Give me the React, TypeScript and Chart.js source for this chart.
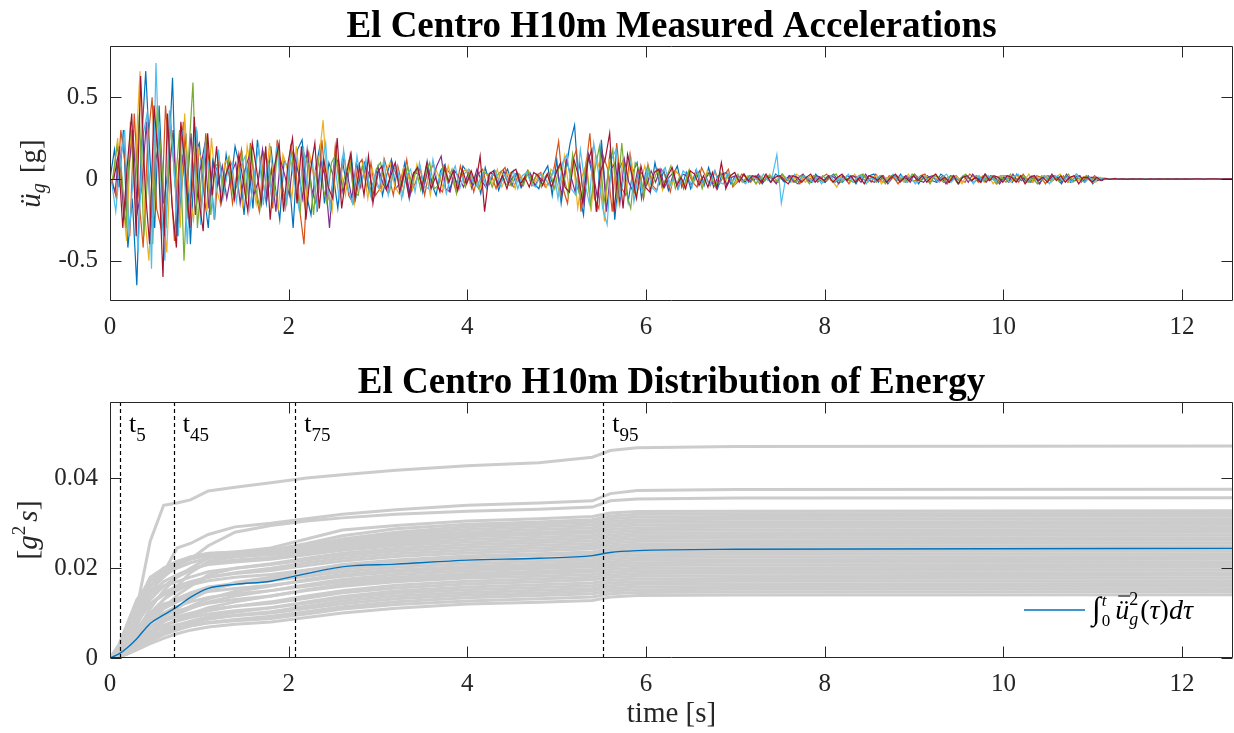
import React, { useEffect, useRef } from "react";
import { Chart, registerables } from "chart.js";
Chart.register(...registerables);

const FONT = "'Liberation Serif', 'Times New Roman', serif";
const AXIS_COLOR = "#262626";

// ---------- Top panel: measured accelerations [g], sampled every ACC_DT seconds ----------
const ACC_DT = 0.05;
// each record starts at its own sub-sample offset (fraction of ACC_DT)
const ACC_OFFSETS = [0, 0.43, 0.71, 0.14, 0.57, 0.29, 0.86];
const ACC_S1 = [
  0,.18,-.05,.3,-.42,-.12,-.65,.2,.66,.1,-.3,.45,-.15,.05,.62,-.35,-.08,.28,-.4,.15,
  .22,-.08,-.3,.12,.05,-.12,.15,-.04,.2,.08,-.22,.1,-.18,.24,.02,-.15,.2,-.05,-.25,.12,
  .05,-.3,.18,.24,-.1,-.22,.06,.2,-.15,.1,.02,-.18,.12,-.05,.15,-.12,.04,.1,-.08,-.02,
  .08,-.1,.03,.12,-.06,-.02,.1,-.12,.04,.06,-.08,.11,-.03,-.1,.05,.09,-.07,.02,-.05,.08,
  .04,-.06,.02,-.09,.07,-.03,.05,-.07,.01,.06,-.04,.03,-.05,.02,.04,-.03,-.06,.03,.08,-.1,
  .12,-.15,.05,.22,.33,-.08,-.22,.15,.02,-.2,.24,-.1,.18,-.25,.06,.12,-.14,.04,.1,-.12,
  .06,-.08,.1,-.03,.05,-.07,.02,.08,-.05,.04,-.06,.01,.05,-.04,.07,-.02,-.06,.03,.04,-.03,
  .02,-.01,.03,-.02,.01,.02,-.03,.01,-.02,.03,.01,-.02,.02,-.01,-.03,.02,.01,-.02,.03,-.01,
  -.02,.01,.03,-.01,-.02,.02,.01,-.03,.02,-.01,.02,.03,-.02,.01,-.02,.02,-.01,.03,-.02,.01,
  .02,-.03,.01,.02,-.01,-.02,.03,.01,-.02,.01,-.03,.02,.01,-.01,.02,-.02,.03,-.01,.01,-.02,
  .01,.02,-.02,.03,-.01,.01,-.02,.02,-.03,.01,.02,-.01,.01,-.03,.02,-.02,.01,.02,-.01,.02,
  -.03,.01,-.01,.004,-.002,.003,-.001,.002,-.002,.001,-.001,.002,-.001,.001,-.002,.001,-.001,.001,-.001,.001,
  -.001,.001,0,.001,-.001,0,.001,-.001,0,.001,-.001,0,
];
const ACC_S2 = [
  0,-.12,.3,.08,-.35,.4,-.1,-.42,.22,.5,-.18,-.3,.45,.05,-.38,.1,.35,-.22,-.05,.3,
  -.2,.28,.04,-.25,.12,-.06,.1,-.15,.02,.18,-.12,.22,-.06,-.2,.16,.08,-.18,.24,-.02,-.15,
  .2,.1,-.18,-.4,.16,.05,-.2,.24,-.08,-.15,.2,-.02,.14,-.1,-.15,.08,.12,-.06,.1,-.1,
  -.06,.12,.02,-.1,.08,-.04,.12,-.08,-.02,.07,-.1,.04,.09,-.05,-.08,.06,.02,-.07,.08,-.03,
  .05,-.08,.03,.06,-.05,.02,-.06,.04,.07,-.02,-.05,.03,-.01,.05,-.04,.02,.04,-.05,-.02,.07,
  .23,-.06,-.15,.1,.18,-.2,.05,.28,-.12,-.18,.14,.06,-.2,.22,-.05,-.1,.15,-.08,.06,-.12,
  .09,-.04,-.07,.06,.02,-.08,.05,.03,-.06,.04,-.02,-.05,.07,.01,-.04,.05,-.03,.02,.06,-.05,
  -.02,.03,.01,-.02,.02,-.03,.01,.02,-.01,-.02,.03,-.01,.02,.01,-.03,.02,-.01,.02,-.02,.01,
  .03,-.01,-.02,.02,.01,-.03,.02,-.01,.02,.01,-.02,.03,-.01,-.02,.02,.01,-.03,.01,.02,-.01,
  -.01,.02,.03,-.02,.01,-.01,.02,-.03,.01,.02,-.01,-.02,.03,.01,-.02,.02,-.01,.01,-.03,.02,
  .02,-.01,.01,-.02,.03,-.01,-.02,.02,.01,-.03,.02,.01,-.01,.02,-.02,.01,.03,-.02,.01,-.01,
  .02,-.01,.005,-.002,.002,-.001,.002,-.001,.001,-.002,.001,-.001,.002,-.001,.001,-.001,.001,-.001,.001,-.001,
  .001,-.001,0,.001,-.001,.001,0,-.001,.001,0,-.001,0,
];
const ACC_S3 = [
  0,.25,-.1,-.38,.3,.12,.66,-.2,-.5,.1,.38,-.15,-.45,.22,.05,-.3,.4,-.08,-.25,.18,
  .1,-.2,.25,-.05,-.15,.1,.14,-.06,.08,-.18,.2,.04,-.15,.12,-.1,.22,-.04,-.18,.15,.06,
  -.12,.2,-.05,-.18,.15,.02,.1,.36,-.08,-.2,.12,.05,-.1,.14,-.15,.03,.1,-.12,.06,-.04,
  -.08,.05,.1,-.04,-.09,.07,.02,-.06,.09,-.03,.05,-.1,.07,.01,-.06,.08,-.02,-.05,.04,.06,
  -.04,.02,-.07,.05,.01,-.03,.06,-.05,.02,.04,-.06,.03,-.02,.05,-.04,.01,.03,-.05,.06,.02,
  -.1,.14,-.05,.12,-.18,.02,.1,-.2,.15,.05,-.26,.12,.08,-.15,.1,-.04,.12,-.1,-.03,.08,
  -.05,.04,.06,-.07,.02,-.04,.05,.01,-.05,.06,-.02,.03,-.04,.05,-.01,-.03,.04,-.02,.03,-.04,
  .01,-.02,.02,.01,-.03,.02,-.01,.03,-.02,.01,.02,-.01,-.02,.03,.01,-.02,.02,-.01,.01,-.02,
  .02,-.01,-.05,.02,.01,-.02,.03,-.01,.02,-.02,.01,.02,-.03,.01,-.01,.02,.01,-.02,.03,-.01,
  -.02,.01,.02,-.01,.03,-.02,.01,-.01,.02,.01,-.03,.02,-.01,.02,.01,-.02,.02,-.03,.01,.02,
  .01,-.02,.02,.01,-.01,.03,-.02,.01,-.01,.02,-.02,.01,.03,-.01,-.02,.02,-.01,.01,.02,-.02,
  -.02,.01,-.004,.002,-.002,.001,-.001,.002,-.001,.001,-.002,.001,-.001,.001,-.001,.002,-.001,.001,-.001,.001,
  -.001,.001,0,-.001,.001,0,.001,-.001,0,.001,0,0,
];
const ACC_S4 = [
  0,-.08,.2,-.25,.05,.3,-.2,-.05,.35,-.3,.1,.25,-.35,.02,.3,-.28,.15,-.1,.28,-.22,
  .05,.2,-.18,.1,-.04,.08,-.12,.03,.1,-.15,.05,.14,-.1,-.02,.18,-.12,.06,-.2,.12,.02,
  -.1,.16,.04,-.12,.18,-.06,-.15,.1,.02,-.3,.08,.12,-.08,.03,-.12,.1,-.05,.08,.02,-.1,
  .06,-.03,-.08,.1,.02,-.05,.07,-.1,.04,.03,-.07,.06,-.02,.08,.14,-.06,-.08,.05,.01,-.05,
  .03,-.04,.06,-.01,-.05,.04,.02,-.04,.05,-.03,.01,.04,-.05,.02,.03,-.04,.01,-.02,.04,-.03,
  .06,-.1,.12,.02,-.08,.1,-.14,.15,.04,-.12,.18,-.2,.06,.1,-.15,.12,-.02,-.08,.06,.03,
  -.04,.05,-.02,.06,-.05,.01,.04,-.06,.03,.02,-.04,.05,-.03,-.01,.04,-.05,.02,.03,-.04,.01,
  .02,.01,-.02,.02,-.01,.03,-.02,.01,.01,-.03,.02,-.01,.02,-.02,.01,.03,-.01,-.02,.02,.01,
  -.02,.02,.01,-.03,.02,-.01,.02,.01,-.02,.03,-.01,-.02,.01,.02,-.03,.01,.02,-.01,.02,-.02,
  .03,-.01,-.02,.01,.02,-.02,.01,-.03,.02,.01,-.01,.02,-.02,.03,-.01,.01,-.02,.02,.01,-.03,
  .01,-.02,.03,-.01,.02,-.02,.01,.01,-.03,.02,-.01,.02,.01,-.02,.03,-.01,-.01,.02,-.02,.01,
  .01,-.01,.003,-.002,.001,-.002,.001,-.001,.002,-.001,.001,-.001,.001,-.002,.001,-.001,.001,-.001,.001,0,
  .001,0,-.001,.001,0,-.001,.001,0,-.001,.001,0,0,
];
const ACC_S5 = [
  0,.2,.05,-.3,.35,-.12,.4,-.35,.08,-.4,.45,.1,-.3,.38,-.05,.3,-.5,.12,.59,-.3,
  .05,.25,-.22,.08,.1,-.08,.12,-.1,-.03,.15,-.12,.2,-.05,-.18,.15,.1,-.14,.22,-.08,-.15,
  .18,-.05,-.2,.15,.08,-.22,.12,-.04,-.15,.1,.15,-.1,.02,.12,-.08,-.1,.08,.03,-.12,.06,
  .1,-.04,-.08,.06,.02,-.1,.08,-.03,.06,-.07,.02,.1,-.06,-.04,.08,-.02,.06,-.09,.03,-.05,
  .05,-.02,-.06,.04,.03,-.05,.02,.05,-.03,-.04,.03,.01,-.04,.05,-.02,.03,-.05,.02,.04,-.06,
  .08,.02,-.1,.15,-.05,-.12,.1,-.16,.06,.2,-.15,.04,.18,-.12,.22,-.08,-.18,.1,.05,-.1,
  .07,-.03,.06,-.05,.01,.08,-.06,.02,-.04,.05,-.02,.04,-.06,.03,.02,-.05,.04,-.01,.03,-.04,
  .03,-.02,.01,.02,-.03,.01,-.01,.02,.01,-.02,.03,-.01,.01,-.02,.02,.01,-.03,.02,-.01,.02,
  -.01,.02,.03,-.02,.01,-.01,-.02,.02,.03,-.01,.01,-.02,.02,-.03,.01,.02,-.01,.01,-.02,.03,
  .02,-.01,.01,-.03,.02,.01,-.02,.01,.02,-.02,.01,.03,-.01,-.02,.02,-.01,.01,.02,-.03,.01,
  -.02,.03,-.01,.01,.02,-.02,.01,-.03,.02,.01,-.01,.02,-.02,.01,.03,-.02,.01,-.01,.02,-.01,
  .01,-.01,.004,-.002,.002,-.001,.001,-.002,.001,-.001,.002,-.001,.001,-.001,.001,-.001,.002,-.001,.001,-.001,
  .001,-.001,0,.001,0,-.001,.001,0,-.001,0,.001,0,
];
const ACC_S6 = [
  0,-.2,.1,.3,-.35,.05,-.45,.25,.4,-.55,.71,-.1,-.5,.42,.08,-.35,.3,-.4,.12,.32,
  -.28,.2,.05,-.25,.18,-.12,.04,.1,-.14,.08,.14,-.18,.02,.2,-.16,.1,-.14,.2,-.05,-.18,
  .15,-.02,-.18,.2,-.1,.12,-.18,.05,.22,-.2,.1,-.12,.18,-.06,-.15,.14,-.04,.12,-.1,.02,
  -.06,.12,-.1,.04,.08,-.12,.02,.06,-.08,.1,-.04,-.06,.12,-.03,.05,-.09,.02,.08,-.06,.03,
  .06,-.02,-.05,.04,-.06,.01,.05,-.04,.03,-.02,.05,-.06,.02,.04,-.03,-.05,.03,.01,-.04,.06,
  -.12,.1,.15,-.06,-.1,.18,-.02,-.15,.22,.05,-.18,-.28,.12,.18,-.1,.04,.15,-.14,.02,-.08,
  .06,-.05,-.08,.03,.07,-.04,.01,-.06,.05,.02,-.05,.06,-.03,.01,-.04,.05,-.02,-.03,.04,-.02,
  .02,-.01,-.03,.02,.01,-.02,.03,-.01,.02,.15,-.15,.01,-.02,.03,-.01,.02,.01,-.02,.01,-.03,
  .01,.02,-.02,.01,-.01,.03,-.02,.01,.02,-.03,.01,-.01,.02,.01,-.02,.03,-.01,.02,-.02,.01,
  -.03,.01,.02,-.01,.02,-.02,.01,.03,-.02,.01,-.01,.02,.01,-.03,.02,-.01,.02,.01,-.02,.02,
  .02,-.02,.01,.03,-.01,-.02,.02,.01,-.01,.02,-.03,.01,.02,-.01,.01,-.02,.03,-.01,-.02,.01,
  -.02,.01,-.004,.002,-.001,.002,-.001,.001,-.002,.001,-.001,.001,-.001,.002,-.001,.001,-.001,.001,-.001,.001,
  -.001,.001,0,-.001,.001,0,-.001,.001,0,-.001,0,0,
];
const ACC_S7 = [
  0,.15,-.3,.08,.4,-.35,.63,-.05,-.4,.45,.1,-.6,.4,-.15,-.42,.35,.05,-.3,.38,-.12,
  -.32,.28,-.1,.2,-.15,.02,.1,-.12,.15,-.02,-.2,.22,.05,-.15,.2,-.25,.08,.22,-.2,.1,
  .25,-.15,.2,-.25,.05,.22,-.18,.12,-.05,-.12,.25,-.18,.02,.15,-.12,.08,-.1,.14,-.15,.04,
  .08,-.06,.02,.1,-.08,.05,-.1,.03,.07,-.05,.09,-.06,.01,-.08,.07,-.02,.05,-.07,.06,-.03,
  .05,-.03,.14,-.2,.03,.05,-.04,.02,-.06,.04,.06,-.03,.01,-.05,.04,.02,-.04,.03,-.05,.04,
  .1,-.05,-.08,.12,.02,-.15,.1,.18,-.2,.05,.12,.28,-.2,.1,-.18,.15,.02,-.12,.08,-.05,
  -.08,.04,.06,-.05,.02,.07,-.04,.01,-.06,.05,.03,-.04,.02,-.05,.04,-.06,.1,-.06,.02,.04,
  -.02,.03,-.01,.02,.01,-.02,.03,-.02,.01,.02,-.01,-.03,.02,.01,-.02,.01,.03,-.02,.01,-.01,
  .02,-.02,.01,.03,-.01,.02,-.02,.01,-.03,.02,.01,-.01,.02,-.02,.01,.03,-.02,.01,-.01,.02,
  -.01,.02,-.02,.01,.03,-.01,.01,-.02,.02,-.03,.01,.02,-.01,.01,-.02,.03,-.01,.02,.01,-.02,
  .02,.01,-.02,.02,-.03,.01,.02,-.01,.01,-.02,.03,-.01,.02,-.02,.01,.02,-.03,.01,.01,-.02,
  .01,-.01,.003,-.002,.002,-.001,.001,-.002,.001,-.001,.001,-.002,.001,-.001,.001,-.001,.001,-.001,.001,-.001,
  .001,-.001,0,.001,-.001,0,.001,0,-.001,.001,0,0,
];
const ACC_SERIES = [ACC_S1, ACC_S2, ACC_S3, ACC_S4, ACC_S5, ACC_S6, ACC_S7];
const ACC_COLORS = ["#0072BD", "#D95319", "#EDB120", "#7E2F8E", "#77AC30", "#4DBEEE", "#A2142F"];

// ---------- Bottom panel: cumulative energy [g^2 s] ----------
const ENERGY_TIME = [0, 0.1, 0.2, 0.3, 0.45, 0.6, 0.75, 0.9, 1.1, 1.4, 1.8, 2.2, 2.6, 3.2, 4.0, 4.8, 5.4, 5.6, 5.9, 7.0, 12.57];
const ENERGY_GRAY = [
  [0,.0015,.005,.011,.026,.034,.0345,.0352,.0372,.038,.039,.0401,.0408,.0418,.0428,.0435,.0447,.0462,.0468,.0471,.0472],
  [0,.0008,.003,.007,.014,.019,.0245,.0255,.0275,.0292,.03,.031,.032,.033,.034,.0345,.035,.0366,.0373,.0375,.0376],
  [0,.001,.004,.009,.015,.018,.0205,.022,.025,.028,.0295,.0305,.0312,.032,.0327,.0331,.0336,.035,.0354,.0356,.0357],
  [0,.002,.006,.012,.018,.02,.0215,.0225,.0232,.0236,.0245,.0265,.0285,.0295,.0305,.031,.0315,.0323,.0326,.0327,.0328],
  [0,.0015,.005,.01,.016,.019,.021,.0225,.0233,.0236,.024,.0255,.0272,.0288,.0298,.0303,.0308,.0316,.032,.0321,.0322],
  [0,.003,.008,.013,.017,.0195,.021,.022,.0228,.0232,.0236,.025,.0265,.028,.0292,.0298,.0302,.031,.0314,.0315,.0316],
  [0,.001,.003,.006,.011,.015,.018,.02,.0222,.023,.0235,.025,.0262,.0275,.0286,.0292,.0296,.0304,.0308,.0309,.031],
  [0,.002,.007,.012,.017,.02,.0215,.0222,.0228,.0231,.0234,.0245,.0258,.027,.028,.0286,.029,.0298,.0302,.0303,.0304],
  [0,.0005,.002,.005,.009,.013,.016,.019,.0215,.0225,.0232,.0243,.0254,.0265,.0275,.028,.0284,.0292,.0296,.0297,.0298],
  [0,.002,.006,.011,.016,.0185,.02,.0212,.0222,.0226,.023,.024,.025,.026,.027,.0275,.0279,.0286,.029,.0291,.0292],
  [0,.001,.004,.008,.013,.016,.018,.0195,.021,.0218,.0224,.0235,.0245,.0255,.0264,.0269,.0273,.028,.0284,.0285,.0286],
  [0,.0015,.005,.009,.014,.017,.0185,.0198,.0208,.0214,.022,.023,.024,.025,.0258,.0263,.0267,.0274,.0278,.0279,.028],
  [0,.0005,.0015,.004,.008,.011,.014,.016,.0185,.02,.021,.0222,.0233,.0244,.0252,.0257,.0261,.0268,.0272,.0273,.0274],
  [0,.002,.006,.01,.014,.016,.017,.018,.0192,.02,.0208,.0218,.0228,.0238,.0246,.0251,.0255,.0262,.0266,.0267,.0268],
  [0,.001,.003,.006,.01,.013,.015,.0165,.018,.019,.02,.0212,.0222,.0232,.024,.0245,.0249,.0256,.026,.0261,.0262],
  [0,.0015,.004,.008,.012,.0145,.016,.017,.018,.0188,.0195,.0206,.0216,.0226,.0234,.0239,.0243,.025,.0254,.0255,.0256],
  [0,.0005,.002,.004,.007,.009,.011,.013,.015,.0168,.018,.0195,.0208,.0218,.0227,.0232,.0236,.0244,.0248,.0249,.025],
  [0,.001,.004,.008,.012,.014,.0155,.0163,.0172,.018,.0186,.0196,.0206,.0215,.0223,.0228,.0231,.0238,.0242,.0243,.0244],
  [0,.0005,.002,.005,.009,.011,.0125,.0138,.0152,.0165,.0175,.0188,.0198,.0208,.0216,.0221,.0225,.0232,.0236,.0237,.0238],
  [0,.001,.003,.006,.009,.0115,.0132,.0145,.0158,.0166,.0172,.0182,.0192,.0202,.021,.0215,.0219,.0226,.023,.0231,.0232],
  [0,.0005,.0015,.003,.006,.008,.01,.0115,.0132,.0148,.016,.0175,.0186,.0196,.0204,.0209,.0213,.022,.0224,.0225,.0226],
  [0,.001,.003,.006,.01,.012,.013,.014,.0148,.0155,.0162,.0172,.0182,.0192,.02,.0204,.0208,.0214,.0218,.0219,.022],
  [0,.0005,.002,.004,.007,.0085,.0098,.011,.0125,.0138,.015,.0163,.0175,.0186,.0194,.0199,.0203,.0208,.0212,.0213,.0214],
  [0,.001,.0025,.005,.008,.01,.0115,.0125,.0135,.0143,.015,.016,.017,.018,.0188,.0193,.0197,.0203,.0206,.0207,.0208],
  [0,.0003,.001,.0025,.005,.007,.0085,.0098,.0112,.0125,.0138,.0152,.0164,.0175,.0183,.0188,.0192,.0197,.02,.0201,.0202],
  [0,.001,.003,.005,.008,.0095,.0105,.0113,.0122,.013,.0138,.015,.016,.017,.0178,.0182,.0186,.0191,.0194,.0195,.0196],
  [0,.0005,.0015,.003,.0055,.0072,.0085,.0095,.0105,.0115,.0125,.0138,.015,.0162,.0171,.0176,.018,.0185,.0188,.0189,.019],
  [0,.001,.0025,.0045,.0068,.0082,.0092,.01,.0108,.0115,.0122,.0133,.0145,.0156,.0165,.017,.0174,.0179,.0182,.0183,.0184],
  [0,.0004,.0012,.0025,.0045,.006,.0072,.0082,.0092,.0102,.0112,.0125,.0137,.0149,.0158,.0163,.0167,.0173,.0176,.0177,.0178],
  [0,.0008,.002,.0038,.006,.0072,.0082,.009,.0098,.0105,.0112,.0122,.0133,.0144,.0152,.0157,.0161,.0167,.017,.0171,.0172],
  [0,.0003,.001,.002,.004,.0055,.0066,.0076,.0086,.0095,.0103,.0115,.0127,.0138,.0146,.0151,.0155,.0161,.0164,.0165,.0166],
  [0,.0006,.0018,.0034,.0055,.0066,.0074,.0081,.0088,.0094,.01,.011,.0121,.0132,.014,.0145,.0149,.0155,.0158,.0159,.016],
  [0,.0003,.001,.002,.0038,.0052,.0062,.0071,.0079,.0086,.0093,.0103,.0114,.0125,.0134,.0139,.0143,.0149,.0152,.0153,.0154],
  [0,.0005,.0014,.0028,.0046,.0058,.0066,.0072,.0078,.0083,.0088,.0098,.0109,.0119,.0127,.0132,.0136,.0143,.0146,.0147,.0148],
  [0,.0003,.0009,.0018,.0032,.0044,.0054,.0062,.0069,.0075,.008,.009,.01,.0111,.012,.0124,.0128,.0136,.0139,.014,.0141],
];
const ENERGY_MEAN = [0,.0009,.0024,.0043,.0077,.0096,.0114,.0135,.0155,.0164,.0171,.0188,.0203,.0209,.0218,.0222,.0228,.0235,.0239,.0242,.0244];

const T_MARKS = [0.112, 0.713, 2.074, 5.52];
const T_SUBS = ["5", "45", "75", "95"];

const X_TICKS = [0, 2, 4, 6, 8, 10, 12];
const ACC_Y_TICKS = [-0.5, 0, 0.5];
const ENERGY_Y_TICKS = [0, 0.02, 0.04];

const X_MAX = 12.57;

type Run = { text: string; font: string; dy?: number; dx?: number; stack?: boolean; overline?: boolean };

function drawRuns(ctx: CanvasRenderingContext2D, runs: Run[], x: number, y: number, align: "left" | "center") {
  let prevStart = 0, prevW = 0;
  const pos: { x: number; w: number }[] = [];
  let cursor = 0;
  for (const r of runs) {
    ctx.font = r.font;
    const w = ctx.measureText(r.text).width;
    cursor += r.dx || 0;
    if (r.stack) {
      pos.push({ x: prevStart, w });
      cursor = prevStart + Math.max(prevW, w);
      prevW = Math.max(prevW, w);
    } else {
      pos.push({ x: cursor, w });
      prevStart = cursor;
      prevW = w;
      cursor += w;
    }
  }
  const total = cursor;
  const x0 = align === "center" ? x - total / 2 : x;
  runs.forEach((r, i) => {
    ctx.font = r.font;
    ctx.fillText(r.text, x0 + pos[i].x, y + (r.dy || 0));
    if (r.overline) {
      const size = parseFloat(r.font.replace(/^[^0-9]*/, ""));
      ctx.save();
      ctx.lineWidth = 1;
      ctx.beginPath();
      ctx.moveTo(x0 + pos[i].x + 3, y - size * 0.82);
      ctx.lineTo(x0 + pos[i].x + pos[i].w + 1, y - size * 0.82);
      ctx.stroke();
      ctx.restore();
    }
  });
}

function framePlugin(id: string, yTicks: number[], extra: (chart: any) => void) {
  return {
    id,
    afterDatasetsDraw(chart: any) {
      const ctx: CanvasRenderingContext2D = chart.ctx;
      const { left, right, top, bottom } = chart.chartArea;
      const xs = chart.scales.x, ys = chart.scales.y;
      ctx.save();
      extra(chart);
      ctx.strokeStyle = AXIS_COLOR;
      ctx.lineWidth = 1;
      ctx.setLineDash([]);
      const L = Math.round(left) + 0.5, R = Math.round(right) - 0.5, T = Math.round(top) + 0.5, B = Math.round(bottom) - 0.5;
      ctx.beginPath();
      ctx.rect(L, T, R - L, B - T);
      ctx.stroke();
      const tl = 11;
      ctx.beginPath();
      for (const v of X_TICKS) {
        const px = Math.round(xs.getPixelForValue(v)) + 0.5;
        ctx.moveTo(px, B); ctx.lineTo(px, B - tl);
        ctx.moveTo(px, T); ctx.lineTo(px, T + tl);
      }
      for (const v of yTicks) {
        const py = Math.round(ys.getPixelForValue(v)) + 0.5;
        ctx.moveTo(L, py); ctx.lineTo(L + tl, py);
        ctx.moveTo(R, py); ctx.lineTo(R - tl, py);
      }
      ctx.stroke();
      ctx.restore();
    },
  };
}

function axisConfig(yMin: number, yMax: number, yTicks: number[], xHeight: number) {
  return {
    x: {
      type: "linear" as const,
      min: 0,
      max: X_MAX,
      afterBuildTicks: (s: any) => { s.ticks = X_TICKS.map((v) => ({ value: v })); },
      afterFit: (s: any) => { s.height = xHeight; },
      grid: { display: false, drawTicks: false },
      border: { display: false },
      ticks: {
        color: AXIS_COLOR,
        font: { family: FONT, size: 25 },
        padding: 11,
        maxRotation: 0,
        autoSkip: false,
        callback: (v: any) => String(v),
      },
    },
    y: {
      type: "linear" as const,
      min: yMin,
      max: yMax,
      afterBuildTicks: (s: any) => { s.ticks = yTicks.map((v) => ({ value: v })); },
      afterFit: (s: any) => { s.width = 110; },
      grid: { display: false, drawTicks: false },
      border: { display: false },
      ticks: {
        color: AXIS_COLOR,
        font: { family: FONT, size: 25 },
        padding: 12,
        autoSkip: false,
        callback: (v: any) => String(v),
      },
    },
  };
}

export default function App() {
  const topRef = useRef<HTMLCanvasElement>(null);
  const botRef = useRef<HTMLCanvasElement>(null);

  useEffect(() => {
    document.body.style.margin = "0";

    const n = ACC_SERIES.length;
    const accDatasets = ACC_SERIES.map((vals, k) => ({
      data: vals.map((v, i) => ({ x: (i + ACC_OFFSETS[k]) * ACC_DT, y: v })),
      borderColor: ACC_COLORS[k],
      borderWidth: 1.2,
      pointRadius: 0,
      tension: 0,
      fill: false,
      order: n - k,
    }));

    const topDecor = framePlugin("topDecor", ACC_Y_TICKS, (chart) => {
      const ctx: CanvasRenderingContext2D = chart.ctx;
      const { left, right } = chart.chartArea;
      ctx.fillStyle = "#000";
      ctx.textAlign = "center";
      ctx.textBaseline = "alphabetic";
      ctx.font = `bold 37px ${FONT}`;
      ctx.fillText("El Centro H10m Measured Accelerations", (left + right) / 2, 37);
      ctx.save();
      ctx.fillStyle = AXIS_COLOR;
      ctx.translate(40, (chart.chartArea.top + chart.chartArea.bottom) / 2);
      ctx.rotate(-Math.PI / 2);
      ctx.textAlign = "left";
      drawRuns(ctx, [
        { text: "ü", font: `italic 29px ${FONT}` },
        { text: "g", font: `italic 20px ${FONT}`, dy: 5 },
        { text: "[g]", font: `29px ${FONT}`, dx: 10 },
      ], 0, 0, "center");
      ctx.restore();
    });

    const c1 = new Chart(topRef.current as HTMLCanvasElement, {
      type: "line",
      data: { datasets: accDatasets as any },
      options: {
        animation: false,
        responsive: false,
        devicePixelRatio: 1,
        events: [],
        parsing: false,
        layout: { padding: { top: 46, right: 1, left: 0, bottom: 0 } },
        plugins: { legend: { display: false }, tooltip: { enabled: false }, title: { display: false } },
        scales: axisConfig(-0.747, 0.814, ACC_Y_TICKS, 59) as any,
      },
      plugins: [topDecor],
    });

    const grayDatasets = ENERGY_GRAY.map((vals) => ({
      data: vals.map((v, i) => ({ x: ENERGY_TIME[i], y: v })),
      borderColor: "#CCCCCC",
      borderWidth: 3,
      pointRadius: 0,
      tension: 0,
      fill: false,
      order: 2,
    }));
    const meanDataset = {
      data: ENERGY_MEAN.map((v, i) => ({ x: ENERGY_TIME[i], y: v })),
      borderColor: "#0072BD",
      borderWidth: 1.4,
      pointRadius: 0,
      cubicInterpolationMode: "monotone",
      fill: false,
      order: 1,
    };

    const botDecor = framePlugin("botDecor", ENERGY_Y_TICKS, (chart) => {
      const ctx: CanvasRenderingContext2D = chart.ctx;
      const { left, right, top, bottom } = chart.chartArea;
      const xs = chart.scales.x;
      ctx.save();
      ctx.strokeStyle = "#000";
      ctx.lineWidth = 1.2;
      ctx.setLineDash([4, 3]);
      ctx.beginPath();
      T_MARKS.forEach((t) => {
        const px = Math.round(xs.getPixelForValue(t)) + 0.5;
        ctx.moveTo(px, top);
        ctx.lineTo(px, bottom);
      });
      ctx.stroke();
      ctx.restore();
      ctx.fillStyle = "#000";
      ctx.textAlign = "left";
      ctx.textBaseline = "alphabetic";
      T_MARKS.forEach((t, i) => {
        const px = xs.getPixelForValue(t);
        drawRuns(ctx, [
          { text: "t", font: `26px ${FONT}` },
          { text: T_SUBS[i], font: `19px ${FONT}`, dy: 9 },
        ], px + 9, top + 30, "left");
      });
      ctx.font = `bold 37px ${FONT}`;
      ctx.textAlign = "center";
      ctx.fillText("El Centro H10m Distribution of Energy", (left + right) / 2, 33);
      ctx.fillStyle = AXIS_COLOR;
      ctx.font = `29px ${FONT}`;
      ctx.fillText("time [s]", (left + right) / 2, 362);
      ctx.save();
      ctx.translate(37, (top + bottom) / 2);
      ctx.rotate(-Math.PI / 2);
      ctx.textAlign = "left";
      drawRuns(ctx, [
        { text: "[", font: `30px ${FONT}` },
        { text: "g", font: `italic 29px ${FONT}` },
        { text: "2", font: `19px ${FONT}`, dy: -12 },
        { text: "s", font: `italic 29px ${FONT}`, dx: 4 },
        { text: "]", font: `30px ${FONT}` },
      ], 0, 0, "center");
      ctx.restore();
      // legend
      const ly = 250;
      ctx.save();
      ctx.strokeStyle = "#0072BD";
      ctx.lineWidth = 1.5;
      ctx.beginPath();
      ctx.moveTo(1024, ly);
      ctx.lineTo(1085, ly);
      ctx.stroke();
      ctx.restore();
      ctx.fillStyle = "#000";
      ctx.strokeStyle = "#000";
      ctx.textAlign = "left";
      drawRuns(ctx, [
        { text: "∫", font: `italic 32px ${FONT}` },
        { text: "0", font: `17px ${FONT}`, dy: 7, dx: 1 },
        { text: "t", font: `italic 17px ${FONT}`, dy: -13, stack: true },
        { text: "ü", font: `italic 28px ${FONT}`, dx: 5, overline: true },
        { text: "g", font: `italic 18px ${FONT}`, dy: 6 },
        { text: "2", font: `18px ${FONT}`, dy: -14, stack: true },
        { text: "(", font: `28px ${FONT}`, dx: 2 },
        { text: "τ", font: `italic 28px ${FONT}` },
        { text: ")", font: `28px ${FONT}` },
        { text: "d", font: `italic 28px ${FONT}` },
        { text: "τ", font: `italic 28px ${FONT}` },
      ], 1092, ly + 9, "left");
    });

    const c2 = new Chart(botRef.current as HTMLCanvasElement, {
      type: "line",
      data: { datasets: [meanDataset, ...grayDatasets] as any },
      options: {
        animation: false,
        responsive: false,
        devicePixelRatio: 1,
        events: [],
        parsing: false,
        layout: { padding: { top: 42, right: 1, left: 0, bottom: 0 } },
        plugins: { legend: { display: false }, tooltip: { enabled: false }, title: { display: false } },
        scales: axisConfig(0, 0.057, ENERGY_Y_TICKS, 75) as any,
      },
      plugins: [botDecor],
    });

    return () => {
      c1.destroy();
      c2.destroy();
    };
  }, []);

  return (
    <div style={{ position: "relative", width: 1234, height: 733, background: "#fff" }}>
      <canvas ref={topRef} width={1234} height={360} style={{ position: "absolute", left: 0, top: 0, width: 1234, height: 360 }} />
      <canvas ref={botRef} width={1234} height={373} style={{ position: "absolute", left: 0, top: 360, width: 1234, height: 373 }} />
    </div>
  );
}
